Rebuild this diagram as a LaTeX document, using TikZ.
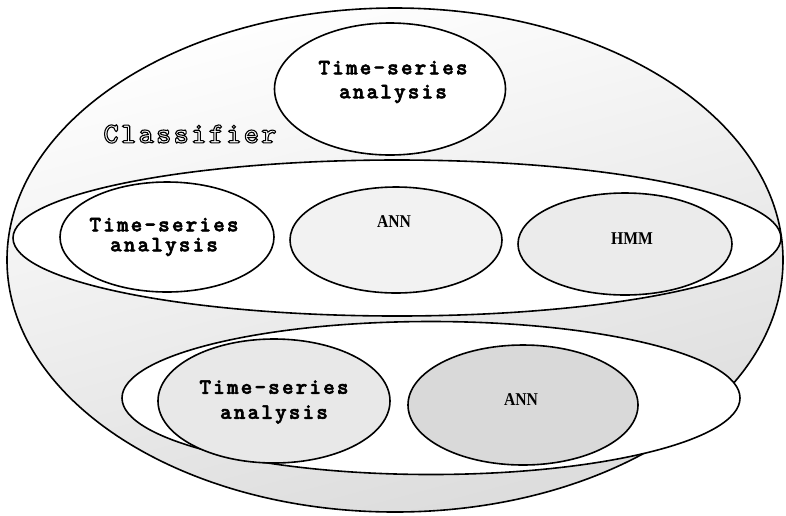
\documentclass[tikz,border=0pt]{standalone}
\usepackage{fontspec}
\setmainfont{Liberation Serif}
\newfontfamily\tsafont{lmmonolt10-bold.otf}[LetterSpace=10, FakeBold=2.5]
\newfontfamily\clsfont{lmmonolt10-bold.otf}[LetterSpace=8]
\newfontfamily\annfont{Liberation Serif}[FakeStretch=0.87]
\usetikzlibrary{shapes.geometric}
\begin{document}
\begin{tikzpicture}[x=1pt,y=-1pt,
  oval/.style={draw=black, line width=1.6pt, ellipse, inner sep=0pt},
  tsa/.style={font=\tsafont\fontsize{22}{24}\selectfont, align=center, inner sep=0pt},
  ann/.style={font=\annfont\bfseries\fontsize{18}{20}\selectfont, inner sep=0pt},
  cls/.style={font=\clsfont\fontsize{29}{30}\selectfont, inner sep=0pt}]
\useasboundingbox (0,0) rectangle (786,515);
% outer classifier ellipse
\node[oval, minimum width=776, minimum height=504, shading=axis, top color=white, bottom color=gray!28, shading angle=15] (outer) at (395,260) {};
% top ellipse
\node[oval, fill=white, minimum width=231, minimum height=132] (top) at (390,89) {};
\node[tsa] (ttop) at (393,82) {Time-series\\analysis};
% classifier label (outlined text)
\node[cls] (cls) at (190,134) {\textcolor{white}{\special{pdf:literal direct 2 Tr 1.1 w 0 G}Classifier\special{pdf:literal direct 0 Tr}}};
% middle band
\node[oval, fill=white, minimum width=768, minimum height=156] (band1) at (397,238) {};
\node[oval, fill=white, minimum width=214, minimum height=110] (m1) at (167,237) {};
\node[tsa] (tm1) at (164,237) {Time-series\\[-4pt]analysis};
\node[oval, fill=gray!10, minimum width=212, minimum height=106] (m2) at (396,240) {};
\node[ann] (tm2) at (394,222) {ANN};
\node[oval, fill=gray!16, minimum width=214, minimum height=102] (m3) at (625,244) {};
\node[ann] (tm3) at (632,239) {HMM};
% bottom band
\node[oval, fill=white, minimum width=618, minimum height=153] (band2) at (431,398) {};
\node[oval, fill=gray!18, minimum width=232, minimum height=124] (b1) at (274,401) {};
\node[tsa] (tb1) at (274,402) {Time-series\\[1pt]analysis};
\node[oval, fill=gray!30, minimum width=230, minimum height=120] (b2) at (523,405) {};
\node[ann] (tb2) at (521,400) {ANN};
\end{tikzpicture}
\end{document}
